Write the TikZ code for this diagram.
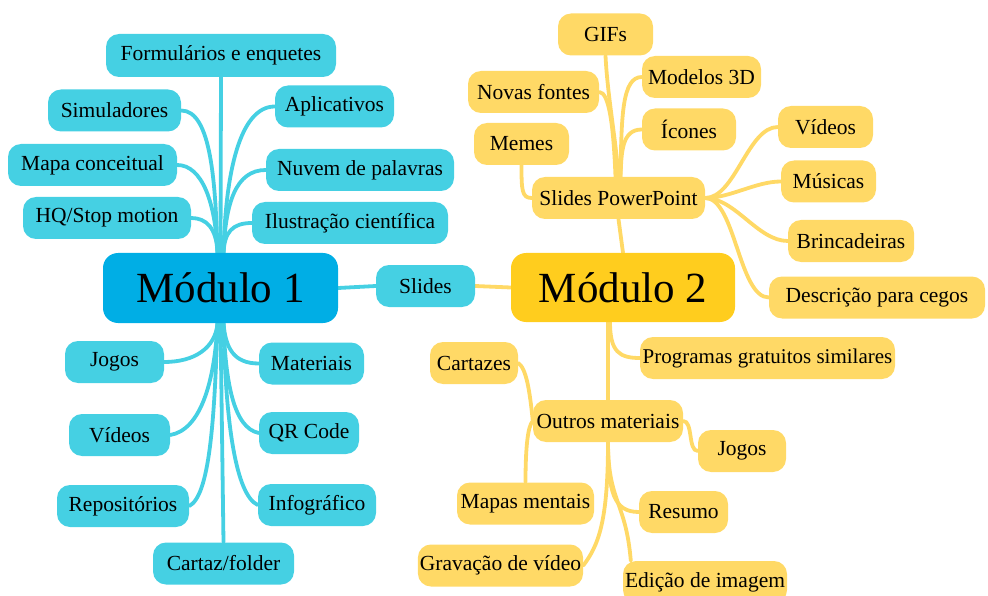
\documentclass[tikz,border=0pt]{standalone}
\usepackage{fontspec}
\setmainfont{Liberation Serif}
\usetikzlibrary{backgrounds}
\definecolor{cyanL}{RGB}{69,208,227}
\definecolor{cyanD}{RGB}{0,174,229}
\definecolor{yelL}{RGB}{255,217,102}
\definecolor{yelD}{RGB}{255,205,30}
\begin{document}
\begin{tikzpicture}[x=1pt,y=-1pt,
  leafB/.style={fill=cyanL, rounded corners=13pt, minimum height=42pt, inner xsep=2pt, text=black, font=\fontsize{21.5}{23}\selectfont},
  leafY/.style={leafB, fill=yelL},
  modB/.style={fill=cyanD, rounded corners=15pt, minimum height=70pt, text=black, font=\fontsize{43}{46}\selectfont},
  modY/.style={modB, fill=yelD},
  bc/.style={draw=cyanL, line width=3.8pt, line cap=round},
  yc/.style={draw=yelL, line width=3.8pt, line cap=round}]
\useasboundingbox (0,0) rectangle (988,596);
% blue nodes
\node[leafB, minimum width=230pt, minimum height=43pt] (form) at (221,55.5) {Formulários e enquetes};
\node[leafB, minimum width=133pt] (sim) at (114.5,110.5) {Simuladores};
\node[leafB, minimum width=119pt] (apl) at (334.5,106.5) {Aplicativos};
\node[leafB, minimum width=169pt] (mapa) at (92.5,165) {Mapa conceitual};
\node[leafB, minimum width=188pt] (nuv) at (360,170) {Nuvem de palavras};
\node[leafB, minimum width=168pt] (hq) at (107,218) {HQ/Stop motion};
\node[leafB, minimum width=196pt] (ilu) at (350,223) {Ilustração científica};
\node[modB, minimum width=235pt] (m1) at (220.5,288) {Módulo 1};
\node[leafB, minimum width=99pt] (slides) at (425.5,286) {Slides};
\node[leafB, minimum width=99pt] (jog1) at (114.5,362) {Jogos};
\node[leafB, minimum width=105pt] (mat) at (311.5,363.5) {Materiais};
\node[leafB, minimum width=101pt] (vid1) at (119.5,435) {Vídeos};
\node[leafB, minimum width=100pt] (qr) at (309,433) {QR Code};
\node[leafB, minimum width=132pt] (rep) at (123,506) {Repositórios};
\node[leafB, minimum width=118pt] (inf) at (317,505) {Infográfico};
\node[leafB, minimum width=141pt] (cart1) at (223.5,563.5) {Cartaz/folder};
% yellow nodes
\node[leafY, minimum width=95pt] (gifs) at (605.5,34.5) {GIFs};
\node[leafY, minimum width=119pt] (mod3d) at (701.5,77) {Modelos 3D};
\node[leafY, minimum width=131pt] (novas) at (533.5,92) {Novas fontes};
\node[leafY, minimum width=94pt] (ico) at (689,129.5) {Ícones};
\node[leafY, minimum width=95pt] (memes) at (521.5,144) {Memes};
\node[leafY, minimum width=95pt] (vid2) at (825.5,127) {Vídeos};
\node[leafY, minimum width=173pt] (spp) at (618.5,198) {Slides PowerPoint};
\node[leafY, minimum width=95pt] (mus) at (828.5,181.5) {Músicas};
\node[leafY, minimum width=126pt] (brin) at (851,241) {Brincadeiras};
\node[leafY, minimum width=216pt] (desc) at (877,297.5) {Descrição para cegos};
\node[modY, minimum width=224pt, minimum height=69pt] (m2) at (623,287.5) {Módulo 2};
\node[leafY, minimum width=88pt] (cart2) at (474,363) {Cartazes};
\node[leafY, minimum width=255pt, font=\fontsize{21}{23}\selectfont] (prog) at (767.5,358) {Programas gratuitos similares};
\node[leafY, minimum width=150pt] (outros) at (608,421) {Outros materiais};
\node[leafY, minimum width=88pt] (jog2) at (742,451) {Jogos};
\node[leafY, minimum width=137pt] (mapas) at (525.5,503.5) {Mapas mentais};
\node[leafY, minimum width=89pt] (res) at (683.5,512) {Resumo};
\node[leafY, minimum width=161pt] (grav) at (500.5,565.5) {Gravação de vídeo};
\node[leafY, minimum width=164pt] (edi) at (705,582) {Edição de imagem};
\begin{pgfonlayer}{background}
% blue top
\draw[bc] (form.south) -- (m1.north);
\draw[bc] (sim.east) .. controls +(30,0) and +(-2,-70) .. ([xshift=-3pt]m1.north);
\draw[bc] (mapa.east) .. controls +(25,0) and +(-2,-50) .. ([xshift=-3pt]m1.north);
\draw[bc] (hq.east) .. controls +(15,0) and +(-1,-25) .. ([xshift=-3pt]m1.north);
\draw[bc] (apl.west) .. controls +(-35,0) and +(2,-80) .. ([xshift=3pt]m1.north);
\draw[bc] (nuv.west) .. controls +(-30,0) and +(2,-50) .. ([xshift=3pt]m1.north);
\draw[bc] (ilu.west) .. controls +(-20,0) and +(1,-20) .. ([xshift=3pt]m1.north);
% blue bottom
\draw[bc] (m1.south) -- (cart1.north);
\draw[bc] (jog1.east) .. controls +(30,0) and +(-2,25) .. ([xshift=-3pt]m1.south);
\draw[bc] (vid1.east) .. controls +(30,-5) and +(-3,60) .. ([xshift=-3pt]m1.south);
\draw[bc] (rep.east) .. controls +(20,-10) and +(-3,100) .. ([xshift=-3pt]m1.south);
\draw[bc] (mat.west) .. controls +(-25,0) and +(2,25) .. ([xshift=3pt]m1.south);
\draw[bc] (qr.west) .. controls +(-25,-5) and +(2,60) .. ([xshift=3pt]m1.south);
\draw[bc] (inf.west) .. controls +(-22,-10) and +(2,100) .. ([xshift=3pt]m1.south);
% slides
\draw[bc] (m1.east) -- (slides.west);
\draw[yc] (slides.east) -- (m2.west);
% yellow top
\draw[yc] (spp.south) -- (m2.north);
\draw[yc] (gifs.south) .. controls +(2,40) and +(-3,-40) .. (spp.north);
\draw[yc] (novas.east) .. controls +(10,0) and +(-2,-50) .. ([xshift=-3pt]spp.north);
\draw[yc] (mod3d.west) .. controls +(-20,0) and +(1,-60) .. ([xshift=2pt]spp.north);
\draw[yc] (ico.west) .. controls +(-20,0) and +(1,-25) .. ([xshift=2pt]spp.north);
\draw[yc] (memes.south) .. controls +(0,25) and +(-10,0) .. (spp.west);
\draw[yc] (spp.east) .. controls +(30,0) and +(-30,0) .. (vid2.west);
\draw[yc] (spp.east) .. controls +(25,0) and +(-25,0) .. (mus.west);
\draw[yc] (spp.east) .. controls +(30,0) and +(-30,0) .. (brin.west);
\draw[yc] (spp.east) .. controls +(30,0) and +(-30,0) .. (desc.west);
% yellow bottom
\draw[yc] ([xshift=-15pt]m2.south) -- (outros.north);
\draw[yc] ([xshift=-13pt]m2.south) .. controls +(0,30) and +(-20,0) .. (prog.west);
\draw[yc] (cart2.east) .. controls +(8,5) and +(-3,-30) .. (outros.west);
\draw[yc] (mapas.north) .. controls +(0,-35) and +(-5,5) .. (outros.west);
\draw[yc] (outros.east) .. controls +(10,0) and +(-10,0) .. (jog2.west);
\draw[yc] (outros.south) .. controls +(0,60) and +(-5,-60) .. ([xshift=8pt]edi.north west);
\draw[yc] (outros.south) .. controls +(0,50) and +(-25,0) .. (res.west);
\draw[yc] (outros.south) .. controls +(0,80) and +(15,-20) .. (grav.east);
\end{pgfonlayer}
\end{tikzpicture}
\end{document}
